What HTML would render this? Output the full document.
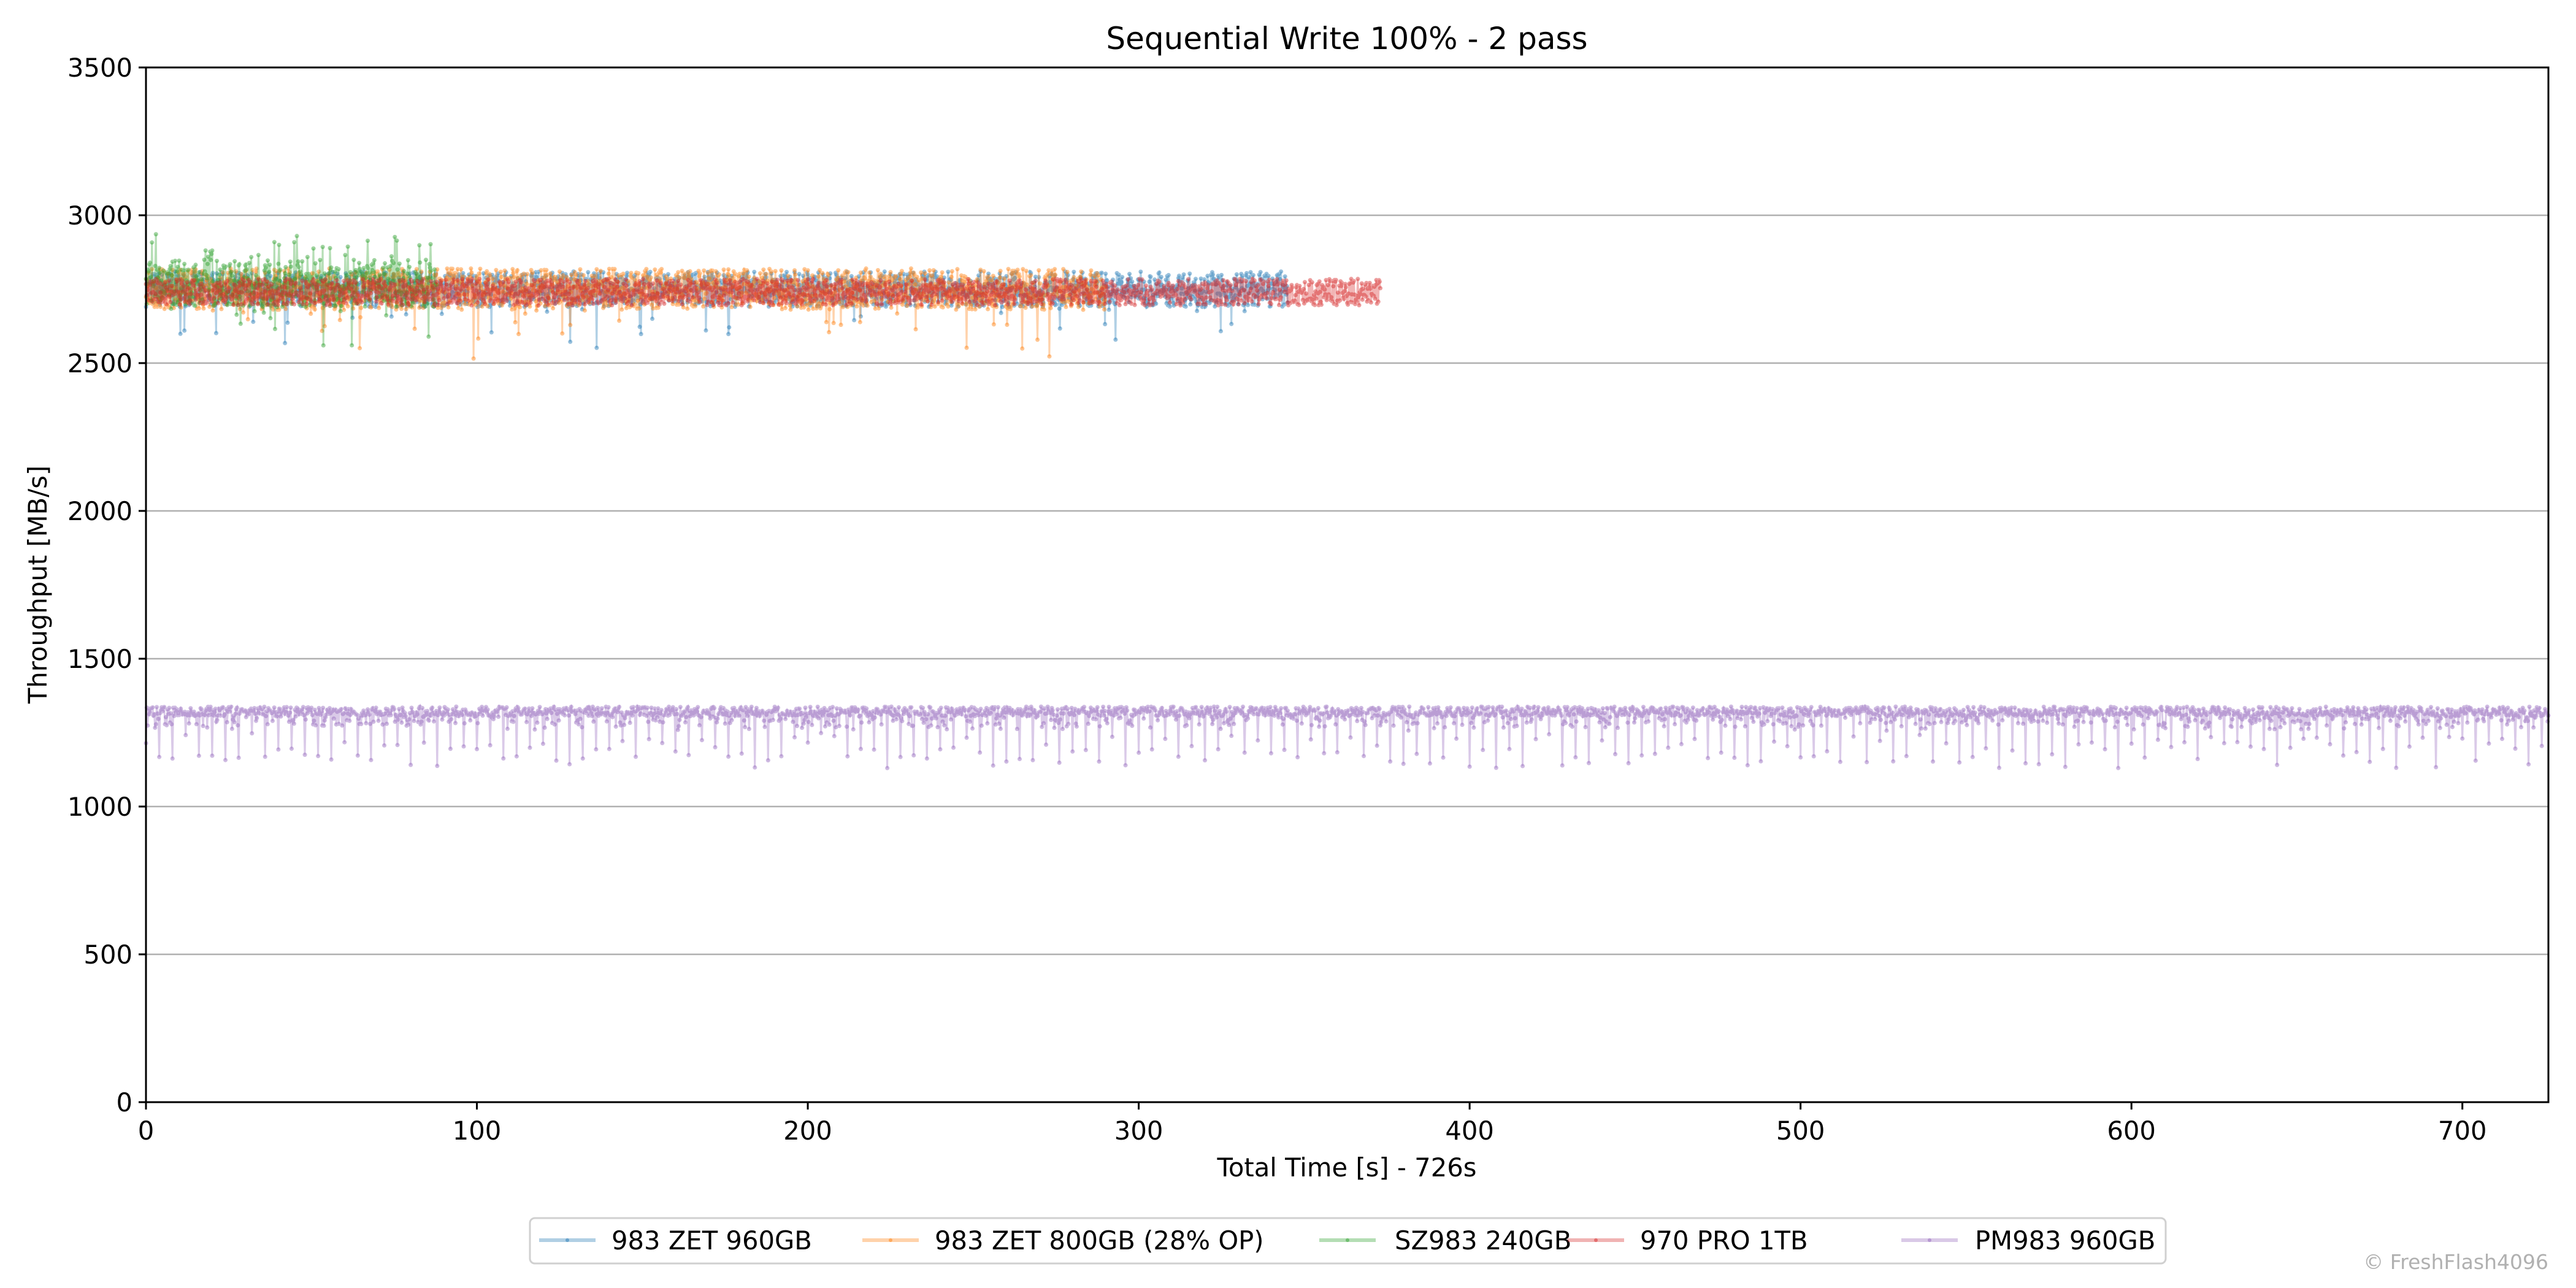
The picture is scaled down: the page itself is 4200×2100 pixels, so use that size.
<!DOCTYPE html>
<html><head><meta charset="utf-8"><style>
body{margin:0;background:#fff;}
svg{display:block;font-family:"DejaVu Sans","Liberation Sans",sans-serif;}
</style></head><body>
<svg id="s" width="4200" height="2100" xmlns="http://www.w3.org/2000/svg">
<rect width="4200" height="2100" fill="#fff"/>
<g stroke="#b0b0b0" stroke-width="2.5">
<line x1="238" x2="4155" y1="351" y2="351"/><line x1="238" x2="4155" y1="592" y2="592"/>
<line x1="238" x2="4155" y1="833" y2="833"/><line x1="238" x2="4155" y1="1074" y2="1074"/>
<line x1="238" x2="4155" y1="1315" y2="1315"/><line x1="238" x2="4155" y1="1556" y2="1556"/>
</g>
<g id="data"></g>
<rect x="238" y="110" width="3917" height="1687" fill="none" stroke="#000" stroke-width="3"/>
<g id="ticks" font-size="41.7" fill="#000"></g>
<text x="2196" y="80" font-size="50" text-anchor="middle">Sequential Write 100% - 2 pass</text>
<text x="2196" y="1918" font-size="41.7" text-anchor="middle">Total Time [s] - 726s</text>
<text transform="translate(76,953) rotate(-90)" font-size="41.7" text-anchor="middle">Throughput [MB/s]</text>
<rect x="864" y="1986" width="2667" height="74" rx="8" fill="#fff" stroke="#d0d0d0" stroke-width="3"/>
<g id="leg" font-size="41.7"></g>
<text x="4155" y="2069" font-size="33" fill="#b0b0b0" text-anchor="end">© FreshFlash4096</text>
</svg>
<script>
function X(t){return 238+t*3917/726;}
function Y(v){return 1797-v*1687/3500;}
var tk=document.getElementById('ticks'),h='';
for(var i=0;i<=7;i++){var y=Y(i*500);h+='<line x1="226" x2="238" y1="'+y+'" y2="'+y+'" stroke="#000" stroke-width="3"/><text x="216" y="'+(y+15)+'" text-anchor="end">'+(i*500)+'</text>';}
for(var i=0;i<=7;i++){var x=X(i*100);h+='<line x1="'+x+'" x2="'+x+'" y1="1797" y2="1809" stroke="#000" stroke-width="3"/><text x="'+x+'" y="1858" text-anchor="middle">'+(i*100)+'</text>';}
tk.innerHTML=h;
var seed=7;function r(){seed=(seed*16807)%2147483647;return seed/2147483647;}
var series=[
 {c:"#1f77b4",end:345,base:2750,amp:60,dip:0.02,dd:130},
 {c:"#ff7f0e",end:290,base:2750,amp:70,dip:0.03,dd:170},
 {c:"#2ca02c",end:88,base:2770,amp:80,dip:0.04,dd:130,up:true},
 {c:"#d62728",end:373,base:2740,amp:45,dip:0.0,dd:0},
 {c:"#9467bd",end:726,base:1322,amp:16,pm:true}
];
var g=document.getElementById('data'),out='';
series.forEach(function(s){
 var pts=[],dots='';var dt=s.pm?0.25:0.2;var k=0;
 for(var t=0;t<=s.end;t+=dt,k++){
  var v=s.base+(r()-0.5)*s.amp*2;
  if(s.up&&r()<0.12)v+=60+r()*60;
  if(!s.pm&&r()<s.dip)v-=20+r()*s.dd;
  if(s.pm){ if(r()<0.25)v-=10+r()*40; if(k%16==0)v=1130+r()*120;}
  var x=X(t).toFixed(1),y=Y(v).toFixed(1);pts.push(x+','+y);
  dots+='M'+x+' '+y+'h0.1';
 }
 out+='<polyline points="'+pts.join(' ')+'" fill="none" stroke="'+s.c+'" stroke-width="3" opacity="0.35"/>';
 out+='<path d="'+dots+'" stroke="'+s.c+'" stroke-width="7" stroke-linecap="round" opacity="0.45"/>';
});
g.innerHTML=out;
var L=[["983 ZET 960GB","#1f77b4",879,997],["983 ZET 800GB (28% OP)","#ff7f0e",1406,1524],["SZ983 240GB","#2ca02c",2151,2274],["970 PRO 1TB","#d62728",2556,2674],["PM983 960GB","#9467bd",3100,3220]];
var lh='';L.forEach(function(l){lh+='<line x1="'+l[2]+'" x2="'+(l[2]+92)+'" y1="2022" y2="2022" stroke="'+l[1]+'" stroke-width="6" opacity="0.35"/><circle cx="'+(l[2]+46)+'" cy="2022" r="3" fill="'+l[1]+'" opacity="0.5"/><text x="'+l[3]+'" y="2037">'+l[0]+'</text>';});
document.getElementById('leg').innerHTML=lh;
</script>
</body></html>
